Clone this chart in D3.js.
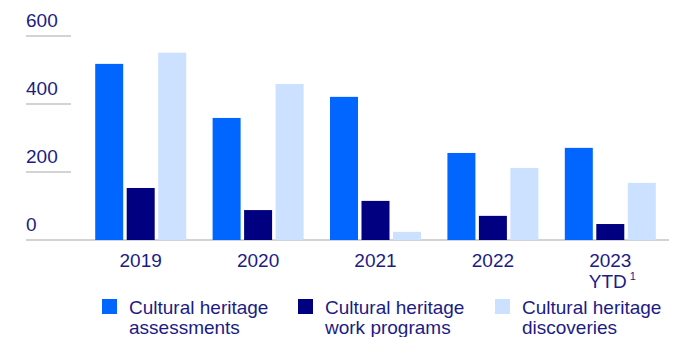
<!DOCTYPE html>
<html>
<head>
<meta charset="utf-8">
<script src="https://cdn.jsdelivr.net/npm/d3@7/dist/d3.min.js"></script>
<style>
  html, body { margin: 0; padding: 0; background: #fff; }
  svg { display: block; font-family: "Liberation Sans", Arial, sans-serif; }
</style>
</head>
<body>
<svg id="chart" width="692" height="337"></svg>
<script>
// Yearly cultural heritage activity counts
const years = ["2019", "2020", "2021", "2022", "2023"];
const seriesNames = ["assessments", "workPrograms", "discoveries"];
const assessments  = [518, 359, 421, 256, 271];
const workPrograms = [153, 88, 115, 71, 47];
const discoveries  = [551, 459, 24, 212, 168];
const yTicks = [0, 200, 400, 600];
const legendLabels = [
  ["Cultural heritage", "assessments"],
  ["Cultural heritage", "work programs"],
  ["Cultural heritage", "discoveries"]
];

const colors = { assessments: "#0066ff", workPrograms: "#000080", discoveries: "#cce0ff" };
const textColor = "#1c1c84";
const gridColor = "#c4c4c4";

const values = { assessments, workPrograms, discoveries };
const rows = years.map((yr, i) => ({
  year: yr,
  bars: seriesNames.map(k => ({ key: k, value: values[k][i] }))
}));

const svg = d3.select("#chart");

const y = d3.scaleLinear().domain([0, 600]).range([240, 36]);
const x0 = d3.scaleBand().domain(years).range([82, 669])
  .paddingInner(0.225).paddingOuter(0.1125);
const x1 = d3.scaleBand().domain(seriesNames).range([0, x0.bandwidth()])
  .paddingInner(0.111).paddingOuter(0);

// Short gridlines at the non-zero ticks, full-width baseline at zero
svg.append("g").selectAll("line")
  .data(yTicks)
  .join("line")
  .attr("x1", 26)
  .attr("x2", d => d === 0 ? 669 : 71)
  .attr("y1", d => y(d))
  .attr("y2", d => y(d))
  .attr("stroke", gridColor)
  .attr("stroke-width", 1.4);

svg.append("g").selectAll("text")
  .data(yTicks)
  .join("text")
  .attr("x", 26)
  .attr("y", d => y(d) - 9)
  .attr("fill", textColor)
  .attr("font-size", 19)
  .text(d => d);

// Grouped bars
const groups = svg.append("g").selectAll("g")
  .data(rows)
  .join("g")
  .attr("transform", d => `translate(${x0(d.year)},0)`);

groups.selectAll("rect")
  .data(d => d.bars)
  .join("rect")
  .attr("x", d => x1(d.key))
  .attr("width", x1.bandwidth())
  .attr("y", d => y(d.value))
  .attr("height", d => y(0) - y(d.value))
  .attr("fill", d => colors[d.key]);

// Year labels
const xl = svg.append("g").selectAll("text")
  .data(years)
  .join("text")
  .attr("x", d => x0(d) + x0.bandwidth() / 2)
  .attr("y", 267)
  .attr("text-anchor", "middle")
  .attr("fill", textColor)
  .attr("font-size", 19)
  .text(d => d);

const ytd = svg.append("text")
  .attr("x", x0("2023") + x0.bandwidth() / 2 + 2)
  .attr("y", 288)
  .attr("text-anchor", "middle")
  .attr("fill", textColor)
  .attr("font-size", 19);
ytd.append("tspan").text("YTD");
ytd.append("tspan").attr("font-size", 11).attr("dx", 3).attr("dy", -8).text("1");

// Legend
const legendX = [102, 298, 495];
const legend = svg.append("g").selectAll("g")
  .data(seriesNames)
  .join("g")
  .attr("transform", (d, i) => `translate(${legendX[i]},299)`);

legend.append("rect")
  .attr("width", 15)
  .attr("height", 15)
  .attr("fill", d => colors[d]);

legend.append("text")
  .attr("x", 27)
  .attr("fill", textColor)
  .attr("font-size", 19)
  .selectAll("tspan")
  .data((d, i) => legendLabels[i])
  .join("tspan")
  .attr("x", 27)
  .attr("y", (d, j) => 15 + j * 20)
  .text(d => d);
</script>
</body>
</html>
